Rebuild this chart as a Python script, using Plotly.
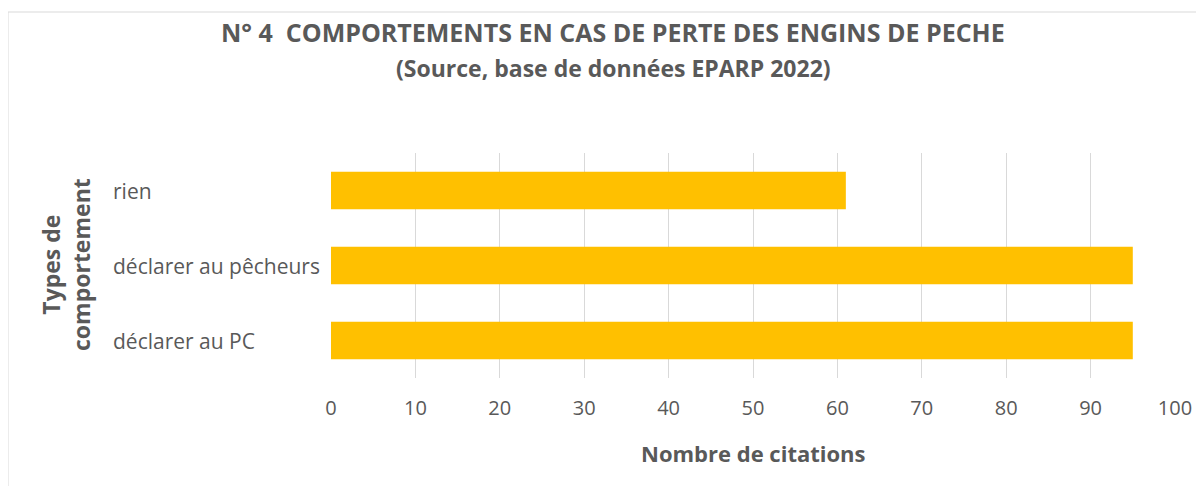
import plotly.graph_objects as go

categories = ["déclarer au PC", "déclarer au pêcheurs", "rien"]
values = [95, 95, 61]
x_ticks = list(range(0, 101, 10))

# screen geometry (page body has an 8px margin)
OFF = 8
W, H = 1204 - OFF, 486 - OFF
PX0, PX1, PY0, PY1 = 331, 1175, 153, 378   # plot area in screen px
ml, mr, mt, mb = PX0 - OFF, 1204 - PX1, PY0 - OFF, 486 - PY1


def px(x):
    return (x - PX0) / (PX1 - PX0)


def py(y):
    return (PY1 - y) / (PY1 - PY0)


GREY = "#595959"
tick_font = dict(family="Open Sans", size=20, color=GREY)

fig = go.Figure(go.Bar(
    y=categories, x=values, orientation="h",
    marker=dict(color="#FFC000", line=dict(width=0)),
    width=0.5, hoverinfo="x+y",
))

for c in categories:
    fig.add_annotation(x=px(113), xref="paper", y=c, yref="y",
                       text=c, showarrow=False, xanchor="left", yanchor="middle",
                       xshift=-2, font=dict(family="Open Sans", size=21, color=GREY))

fig.add_annotation(x=px(66), xref="paper", y=py(265), yref="paper",
                   text="<b>Types de<br>comportement</b>", textangle=-90,
                   showarrow=False, xanchor="center", yanchor="middle",
                   font=dict(family="Open Sans", size=23, color=GREY))

fig.add_annotation(x=px(753), xref="paper", y=py(453), yref="paper",
                   text="<b>Nombre de citations</b>", showarrow=False,
                   xanchor="center", yanchor="middle",
                   font=dict(family="Open Sans", size=22, color=GREY))

fig.add_annotation(x=px(613), xref="paper", y=py(32), yref="paper",
                   text="<b>N° 4  COMPORTEMENTS EN CAS DE PERTE DES ENGINS DE PECHE</b>",
                   showarrow=False, xanchor="center", yanchor="middle",
                   font=dict(family="Open Sans", size=25, color=GREY))

fig.add_annotation(x=px(613), xref="paper", y=py(68), yref="paper",
                   text="<b>(Source, base de données EPARP 2022)</b>",
                   showarrow=False, xanchor="center", yanchor="middle",
                   font=dict(family="Open Sans", size=23, color=GREY))

fig.update_layout(
    width=W, height=H,
    margin=dict(l=ml, r=mr, t=mt, b=mb),
    paper_bgcolor="white", plot_bgcolor="white",
    showlegend=False,
    xaxis=dict(range=[0, 100], tickvals=x_ticks, showgrid=True,
               gridcolor="#D9D9D9", gridwidth=1, zeroline=False,
               showline=False, ticks="", tickfont=tick_font, ticklabelstandoff=16),
    yaxis=dict(showticklabels=False, showgrid=False, zeroline=False,
               showline=False, ticks="", range=[-0.5, 2.5]),
    shapes=[dict(type="rect", xref="paper", yref="paper",
                 x0=px(8), x1=px(1215), y0=py(495), y1=py(12),
                 line=dict(color="#D9D9D9", width=1), fillcolor="rgba(0,0,0,0)",
                 layer="below")],
)

fig.write_html("out.html")
